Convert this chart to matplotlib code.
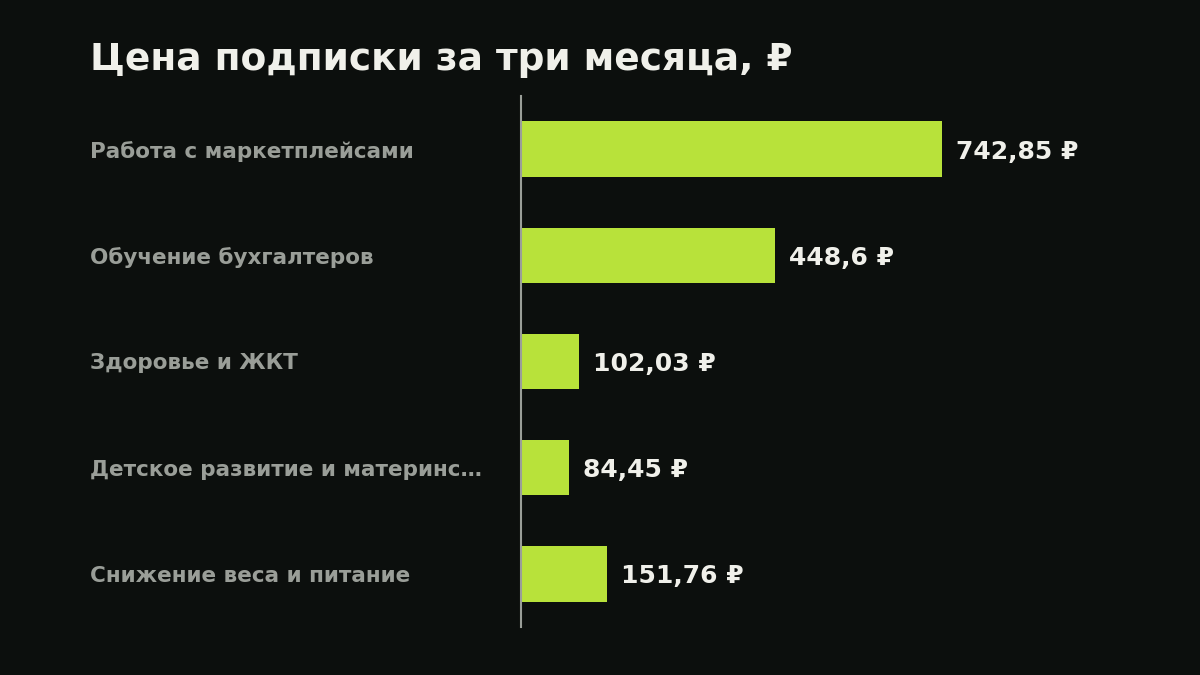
import matplotlib.pyplot as plt

plt.rcParams['font.family'] = ['DejaVu Sans']

categories = ['Работа с маркетплейсами', 'Обучение бухгалтеров', 'Здоровье и ЖКТ',
              'Детское развитие и материнс…', 'Снижение веса и питание']
prices = [742.85, 448.6, 102.03, 84.45, 151.76]
price_labels = ['742,85 ₽', '448,6 ₽', '102,03 ₽', '84,45 ₽', '151,76 ₽']

bg = '#0c0f0d'
bar_color = '#b8e23a'

fig = plt.figure(figsize=(12, 6.75), dpi=100, facecolor=bg)
ax = fig.add_axes([521 / 1200, 1 - 627 / 675, 589 / 1200, 531 / 675])
ax.set_facecolor(bg)

y = range(len(categories))
ax.barh(y, prices, height=0.52, color=bar_color)
ax.set_ylim(len(categories) - 0.5, -0.5)
ax.set_xlim(0, max(prices) * 1.4)

for i, (v, lab) in enumerate(zip(prices, price_labels)):
    ax.annotate(lab, (v, i), xytext=(10, 0), textcoords='offset points',
                va='center_baseline', ha='left', color='#f0f0ea', fontsize=18, fontweight='bold')

# category labels, left aligned at the figure margin
for i, cat in enumerate(categories):
    ax.annotate(cat, (0, i), xycoords=('figure fraction', 'data'),
                xytext=(90, 0), textcoords='offset pixels',
                va='center_baseline', ha='left', color='#9a9e98', fontsize=15.5, fontweight='bold')

ax.set_xticks([])
ax.set_yticks([])
for s in ['top', 'right', 'bottom']:
    ax.spines[s].set_visible(False)
ax.spines['left'].set_color('#9a9e98')
ax.spines['left'].set_linewidth(1.5)

fig.text(90 / 1200, 1 - 56 / 675, 'Цена подписки за три месяца, ₽', color='#f0f0ea',
         fontsize=27, fontweight='bold', va='center_baseline', ha='left')

fig.savefig('out.png', dpi=100, facecolor=bg)
